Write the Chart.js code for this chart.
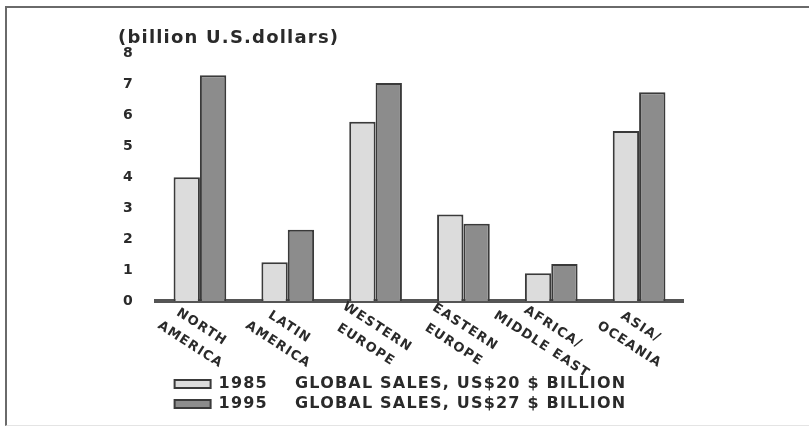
<!DOCTYPE html>
<html>
<head>
<meta charset="utf-8">
<script src="https://cdn.jsdelivr.net/npm/chart.js@4.4.1/dist/chart.umd.min.js"></script>
<style>
  html, body { margin: 0; padding: 0; background: #fff; }
  #frame {
    position: absolute; left: 5px; top: 6px; width: 804px; height: 417px;
    border-top: 2px solid #6a6a6a; border-left: 2px solid #6a6a6a;
    border-bottom: 1px solid #e4e4e4;
  }
  #wrap { position: absolute; left: 0; top: 0; width: 809px; height: 429px; }
</style>
</head>
<body>
<div id="frame"></div>
<div id="wrap"><canvas id="chart" width="809" height="429"></canvas></div>
<script>
'use strict';

// ─── DATA ────────────────────────────────────────────────────

const REGIONS = [
  ['NORTH', 'AMERICA'],
  ['LATIN', 'AMERICA'],
  ['WESTERN', 'EUROPE'],
  ['EASTERN', 'EUROPE'],
  ['AFRICA/', 'MIDDLE EAST'],
  ['ASIA/', 'OCEANIA']
];
const SALES_1985 = [4.0, 1.25, 5.8, 2.8, 0.9, 5.5];
const SALES_1995 = [7.3, 2.3, 7.05, 2.5, 1.2, 6.75];
const Y_TICKS = [0, 1, 2, 3, 4, 5, 6, 7, 8];
const SERIES_LABELS = [
  '1985    GLOBAL SALES, US$20 $ BILLION',
  '1995    GLOBAL SALES, US$27 $ BILLION'
];

// ─── STYLE ───────────────────────────────────────────────────

const INK = '#2a2a2a';
const FONT = "'DejaVu Sans', sans-serif";

// the scanned lettering is wide, so space the letters out a little
const wideText = {
  id: 'wideText',
  beforeUpdate(chart) { chart.ctx.letterSpacing = '1.2px'; },
  beforeDraw(chart) { chart.ctx.letterSpacing = '1.2px'; }
};

// rotated region labels under the bars (text reads downwards)
const slantedLabels = {
  id: 'slantedLabels',
  afterDraw(chart) {
    const { ctx, scales: { x } } = chart;
    const base = chart.chartArea.bottom;
    ctx.save();
    ctx.fillStyle = INK;
    ctx.font = 'bold 13px ' + FONT;
    ctx.textAlign = 'center';
    ctx.textBaseline = 'middle';
    REGIONS.forEach((lines, i) => {
      const cx = x.getPixelForTick(i) - 4;
      ctx.save();
      ctx.translate(cx, base + 35);
      ctx.rotate(33 * Math.PI / 180);
      lines.forEach((t, j) => {
        ctx.fillText(t, 0, (j - (lines.length - 1) / 2) * 21);
      });
      ctx.restore();
    });
    ctx.restore();
  }
};

new Chart(document.getElementById('chart'), {
  type: 'bar',
  data: {
    labels: REGIONS.map(r => r.join(' ')),
    datasets: [
      {
        label: SERIES_LABELS[0],
        data: SALES_1985,
        backgroundColor: '#dcdcdc',
        borderColor: '#3a3a3a',
        borderWidth: 2,
        borderSkipped: 'bottom'
      },
      {
        label: SERIES_LABELS[1],
        data: SALES_1995,
        backgroundColor: '#8c8c8c',
        borderColor: '#3a3a3a',
        borderWidth: 2,
        borderSkipped: 'bottom'
      }
    ]
  },
  options: {
    responsive: false,
    animation: false,
    layout: { padding: { left: 118, right: 126, top: 28, bottom: 7 } },
    categoryPercentage: 0.6,
    barPercentage: 1.0,
    plugins: {
      title: {
        display: true,
        text: '(billion U.S.dollars)',
        align: 'start',
        color: INK,
        font: { family: FONT, size: 18, weight: 'bold' },
        padding: { top: 0, bottom: 4 }
      },
      legend: {
        position: 'bottom',
        labels: {
          color: INK,
          font: { family: FONT, size: 16, weight: 'bold' },
          boxWidth: 36,
          boxHeight: 8,
          padding: 4
        }
      },
      tooltip: { enabled: false }
    },
    scales: {
      x: {
        grid: { display: false, drawTicks: false },
        border: { display: true, color: '#555555', width: 4 },
        ticks: { display: false },
        afterFit: s => { s.height = 71; }
      },
      y: {
        min: 0,
        max: 8,
        afterBuildTicks: s => { s.ticks = Y_TICKS.map(v => ({ value: v })); },
        afterFit: s => { s.width = 38; },
        grid: { display: false, drawTicks: false },
        border: { display: false },
        ticks: {
          color: INK,
          padding: 22,
          font: { family: FONT, size: 14, weight: 'bold' }
        }
      }
    }
  },
  plugins: [wideText, slantedLabels]
});
</script>
</body>
</html>
